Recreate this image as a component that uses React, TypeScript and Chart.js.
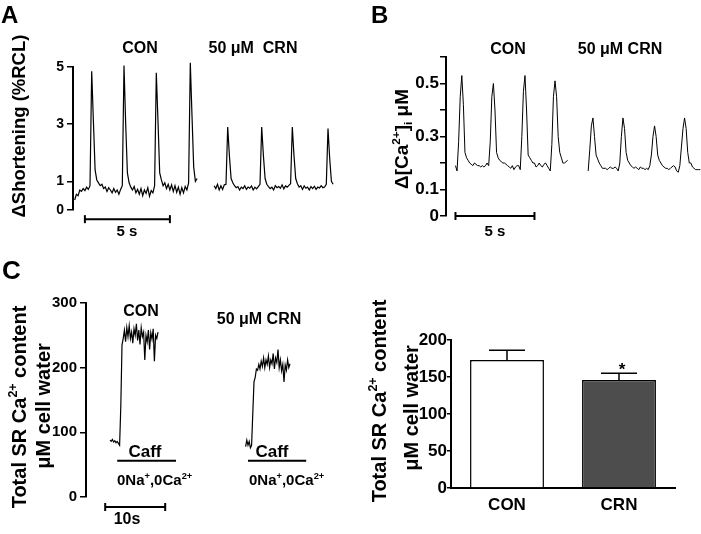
import React, { useEffect, useRef } from 'react';
import { Chart, registerables } from 'chart.js';
Chart.register(...registerables);

const PAGE_W = 701;
const PAGE_H = 534;
const FONT = '"Liberation Sans", Arial, sans-serif';

// ---------- Panel A: cell shortening (% RCL) ----------
const A_Y_TICKS = [0, 1, 3, 5];
const A_Y_LABELS = ['0', '1', '3', '5'];
const A_STEP = 0.1; // s per sample
const A_CON_T0 = 0.1;
const A_CON = [
  0.35, 0.55, 0.5, 0.7, 0.65, 0.75, 0.68, 0.8, 0.72, 0.85,
  4.85, 3.1, 1.4, 1.05,
  0.95, 0.85, 0.9, 0.75, 0.8, 0.65, 0.78, 0.7, 0.6, 0.75, 0.62, 0.7, 0.55, 0.72, 0.85,
  5.05, 3.0, 1.3, 0.95,
  0.8, 0.7, 0.82, 0.6, 0.72, 0.55, 0.75, 0.5, 0.7, 0.58, 0.78, 0.48, 0.68, 0.6, 0.85,
  4.8, 3.1, 1.3, 1.05,
  0.85, 0.95, 0.75, 0.9, 0.7, 0.88, 0.65, 0.85, 0.62, 0.8, 0.55, 0.78, 0.6, 0.82, 0.7, 0.95,
  5.15, 3.3, 1.5, 1.0,
  1.1,
];
const A_CRN_T0 = 8.3;
const A_CRN = [
  0.85, 0.75, 0.9, 0.7, 0.85, 0.72, 0.88, 0.9,
  2.9, 1.9, 1.1,
  0.95, 0.85, 0.78, 0.82, 0.7, 0.8, 0.75, 0.85, 0.72, 0.8, 0.76, 0.84, 0.7, 0.8, 0.74, 0.82, 0.9,
  2.9, 1.9, 1.1,
  0.9, 0.82, 0.75, 0.8, 0.7, 0.85, 0.78, 0.82, 0.76, 0.88, 0.74, 0.84, 0.8, 0.86, 0.92,
  2.9, 1.9, 1.1,
  0.92, 0.8, 0.85, 0.72, 0.84, 0.76, 0.8, 0.7, 0.82, 0.75, 0.83, 0.72, 0.8, 0.77, 0.85, 0.78, 0.8, 0.9,
  2.85, 1.8, 1.0, 0.9,
];
const A_SCALE_BAR_X = [0.7, 5.7]; // 5 s
const A_SCALE_BAR_Y = -0.32;

// ---------- Panel B: Ca2+ transients (uM) ----------
const B_Y_TICKS = [0, 0.1, 0.2, 0.3, 0.4, 0.5, 0.6];
const B_Y_LABELS = ['0', '0.1', '', '0.3', '', '0.5', ''];
const B_STEP = 0.1;
const B_CON_T0 = 0.6;
const B_CON = [
  0.19, 0.17, 0.28, 0.45, 0.53, 0.42, 0.24, 0.22, 0.21, 0.2,
  0.195, 0.19, 0.2, 0.195, 0.19, 0.19, 0.185, 0.19, 0.185, 0.19,
  0.2, 0.19, 0.28, 0.45, 0.5, 0.4, 0.24, 0.22, 0.21, 0.205,
  0.2, 0.2, 0.195, 0.19, 0.185, 0.18, 0.19, 0.175, 0.185, 0.19,
  0.19, 0.175, 0.3, 0.47, 0.53, 0.4, 0.23, 0.22, 0.21, 0.2,
  0.2, 0.185, 0.19, 0.2, 0.19, 0.185, 0.195, 0.2, 0.19, 0.18,
  0.17, 0.27, 0.45, 0.51, 0.45, 0.3, 0.24, 0.22, 0.2, 0.2,
  0.205, 0.21,
];
const B_CRN_T0 = 9.0;
const B_CRN = [
  0.17, 0.25, 0.34, 0.37, 0.3, 0.23, 0.215, 0.2, 0.19, 0.18,
  0.18, 0.18, 0.175, 0.18, 0.185, 0.18, 0.18, 0.185, 0.18, 0.17,
  0.2, 0.3, 0.37, 0.33, 0.24, 0.21, 0.2, 0.19, 0.185, 0.18,
  0.185, 0.18, 0.175, 0.185, 0.18, 0.18, 0.175, 0.18, 0.175, 0.19,
  0.23, 0.3, 0.34, 0.3, 0.23, 0.21, 0.2, 0.19, 0.185, 0.18,
  0.18, 0.175, 0.18, 0.185, 0.19, 0.185, 0.17, 0.165, 0.19, 0.26,
  0.33, 0.37, 0.33, 0.24, 0.2, 0.2, 0.185, 0.18, 0.175, 0.175,
  0.175, 0.175,
];
const B_SCALE_BAR_X = [0.6, 5.6]; // 5 s
const B_SCALE_BAR_Y = 0;

// ---------- Panel C (left): caffeine-induced SR release ----------
const C_Y_TICKS = [0, 100, 200, 300];
const C_Y_LABELS = ['0', '100', '200', '300'];
const C_STEP = 0.2;
const C_CON_T0 = 4.0;
const C_CON = [
  88, 86, 89, 85, 87, 84, 86, 83, 80, 140,
  235, 245, 258, 240, 262, 248, 265, 245, 255, 238,
  260, 250, 268, 242, 258, 236, 262, 248, 255, 212,
  250, 240, 258, 228, 254, 244, 260, 210, 250, 245,
  255,
];
const C_CRN_T0 = 26.6;
const C_CRN = [
  78, 88, 80, 86, 76, 80, 130, 178, 185, 198,
  196, 205, 198, 210, 202, 215, 200, 212, 205, 218,
  200, 212, 206, 222, 198, 215, 208, 228, 200, 212,
  195, 205, 178, 204, 196, 212, 200, 206,
];
const C_CAFF_CON_X = [5.2, 15.0];
const C_CAFF_CRN_X = [27.0, 36.7];
const C_CAFF_Y = 56;
const C_SCALE_BAR_X = [3.2, 13.2]; // 10 s
const C_SCALE_BAR_Y = -15.5;

// ---------- Panel C (right): total SR Ca2+ content ----------
const BAR_CATS = ['CON', 'CRN'];
const BAR_MEANS = [173, 146];
const BAR_SEM = [13, 9];
const BAR_COLORS = ['#ffffff', '#4d4d4d'];
const BAR_Y_TICKS = [0, 50, 100, 150, 200];

type Part = [string, number];
type TextItem = { parts: Part[]; x: number; y: number; size: number; align?: 'left' | 'center'; rot?: boolean };

function drawRich(ctx: CanvasRenderingContext2D, it: TextItem) {
  ctx.save();
  ctx.translate(it.x, it.y);
  if (it.rot) ctx.rotate(-Math.PI / 2);
  ctx.textBaseline = 'middle';
  ctx.textAlign = 'left';
  ctx.fillStyle = '#000';
  let total = 0;
  const segs = it.parts.map(([t, m]) => {
    const s = m ? it.size * 0.62 : it.size;
    ctx.font = `bold ${s}px ${FONT}`;
    const w = ctx.measureText(t).width;
    total += w;
    return { t, m, s, w };
  });
  let cx = it.align === 'left' ? 0 : -total / 2;
  for (const sg of segs) {
    ctx.font = `bold ${sg.s}px ${FONT}`;
    const dy = sg.m === 1 ? -it.size * 0.33 : sg.m === -1 ? it.size * 0.3 : 0;
    ctx.fillText(sg.t, cx, dy);
    cx += sg.w;
  }
  ctx.restore();
}

function textPlugin(items: TextItem[]) {
  return {
    id: 'overlayText',
    afterDraw(chart: any) {
      const ctx = chart.ctx;
      items.forEach((it) => drawRich(ctx, it));
    },
  };
}

// vertical end caps for datasets marked as scale bars
const capPlugin = {
  id: 'scaleBarCaps',
  afterDatasetsDraw(chart: any) {
    const ctx = chart.ctx;
    ctx.save();
    ctx.strokeStyle = '#000';
    ctx.lineWidth = 2;
    chart.data.datasets.forEach((ds: any, di: number) => {
      if (!ds.caps) return;
      chart.getDatasetMeta(di).data.forEach((el: any) => {
        ctx.beginPath();
        ctx.moveTo(el.x, el.y - 4);
        ctx.lineTo(el.x, el.y + 4);
        ctx.stroke();
      });
    });
    ctx.restore();
  },
};

const series = (t0: number, step: number, vals: number[]) => vals.map((v, i) => ({ x: +(t0 + i * step).toFixed(3), y: v }));

function traceDs(points: any[], width: number) {
  return { data: points, borderColor: '#000', borderWidth: width, pointRadius: 0, tension: 0, clip: false as any };
}
function barDs(xs: number[], y: number, caps: boolean) {
  return {
    data: [{ x: xs[0], y }, { x: xs[1], y }],
    borderColor: '#000',
    borderWidth: 2,
    pointRadius: 0,
    caps,
    clip: false as any,
  };
}

function yScale(min: number, max: number, ticks: number[], labels: string[], size: number, tickLen: number, pad: number) {
  return {
    type: 'linear',
    min,
    max,
    afterFit: (s: any) => { s.width = 60; },
    afterBuildTicks: (s: any) => { s.ticks = ticks.map((v) => ({ value: v })); },
    ticks: {
      autoSkip: false,
      color: '#000',
      padding: pad,
      font: { family: FONT, size, weight: 'bold' },
      callback: (_v: any, i: number) => labels[i],
    },
    grid: { display: true, drawOnChartArea: false, drawTicks: true, tickLength: tickLen, color: '#000', lineWidth: 1.5 },
    border: { display: true, color: '#000', width: 2 },
  };
}

function traceChart(canvas: HTMLCanvasElement, o: any) {
  return new Chart(canvas, {
    type: 'line',
    data: { datasets: o.datasets },
    options: {
      responsive: false,
      animation: false,
      devicePixelRatio: 1,
      layout: { padding: { left: o.axisX - 60, top: o.top, right: PAGE_W - o.right, bottom: PAGE_H - o.bottom } },
      plugins: { legend: { display: false }, tooltip: { enabled: false } },
      scales: {
        x: { type: 'linear', min: 0, max: o.xmax, display: false },
        y: o.y,
      },
    } as any,
    plugins: [capPlugin, textPlugin(o.texts)],
  });
}

export default function App() {
  const refA = useRef<HTMLCanvasElement>(null);
  const refB = useRef<HTMLCanvasElement>(null);
  const refC = useRef<HTMLCanvasElement>(null);
  const refD = useRef<HTMLCanvasElement>(null);

  useEffect(() => {
    document.body.style.margin = '0';
    document.body.style.background = '#fff';
    const charts: Chart[] = [];

    charts.push(traceChart(refA.current!, {
      axisX: 73, top: 67, bottom: 210, right: 345, xmax: 16,
      y: yScale(0, 5, A_Y_TICKS, A_Y_LABELS, 14, 6, 3),
      datasets: [
        traceDs(series(A_CON_T0, A_STEP, A_CON), 1.2),
        traceDs(series(A_CRN_T0, A_STEP, A_CRN), 1.2),
        barDs(A_SCALE_BAR_X, A_SCALE_BAR_Y, true),
      ],
      texts: [
        { parts: [['A', 0]], x: 1, y: 16, size: 24, align: 'left' },
        { parts: [['CON', 0]], x: 140, y: 49, size: 16 },
        { parts: [['50 μM  CRN', 0]], x: 253, y: 49, size: 16 },
        { parts: [['5 s', 0]], x: 127, y: 232, size: 15 },
        { parts: [['ΔShortening (%RCL)', 0]], x: 20, y: 126, size: 18.5, rot: true },
      ],
    }));

    charts.push(traceChart(refB.current!, {
      axisX: 446, top: 57, bottom: 216, right: 701, xmax: 16.14,
      y: yScale(0, 0.6, B_Y_TICKS, B_Y_LABELS, 17, 6, 1),
      datasets: [
        traceDs(series(B_CON_T0, B_STEP, B_CON), 1),
        traceDs(series(B_CRN_T0, B_STEP, B_CRN), 1),
        barDs(B_SCALE_BAR_X, B_SCALE_BAR_Y, true),
      ],
      texts: [
        { parts: [['B', 0]], x: 371, y: 16, size: 24, align: 'left' },
        { parts: [['CON', 0]], x: 508, y: 50, size: 16 },
        { parts: [['50 μM CRN', 0]], x: 620, y: 50, size: 16 },
        { parts: [['5 s', 0]], x: 495, y: 232, size: 15 },
        { parts: [['Δ[Ca', 0], ['2+', 1], [']', 0], ['i', -1], [' μM', 0]], x: 403, y: 139, size: 19, rot: true },
      ],
    }));

    charts.push(traceChart(refC.current!, {
      axisX: 86, top: 303, bottom: 497, right: 338, xmax: 42,
      y: yScale(0, 300, C_Y_TICKS, C_Y_LABELS, 15, 6, 3),
      datasets: [
        traceDs(series(C_CON_T0, C_STEP, C_CON), 1.2),
        traceDs(series(C_CRN_T0, C_STEP, C_CRN), 1.2),
        barDs(C_CAFF_CON_X, C_CAFF_Y, false),
        barDs(C_CAFF_CRN_X, C_CAFF_Y, false),
        barDs(C_SCALE_BAR_X, C_SCALE_BAR_Y, true),
      ],
      texts: [
        { parts: [['C', 0]], x: 2, y: 272, size: 26, align: 'left' },
        { parts: [['CON', 0]], x: 141, y: 312, size: 16 },
        { parts: [['50 μM CRN', 0]], x: 259, y: 320, size: 16 },
        { parts: [['Caff', 0]], x: 145, y: 452, size: 17 },
        { parts: [['Caff', 0]], x: 272, y: 452, size: 17 },
        { parts: [['0Na', 0], ['+', 1], [',0Ca', 0], ['2+', 1]], x: 117, y: 481, size: 15, align: 'left' },
        { parts: [['0Na', 0], ['+', 1], [',0Ca', 0], ['2+', 1]], x: 249, y: 481, size: 15, align: 'left' },
        { parts: [['10s', 0]], x: 127, y: 520, size: 16 },
        { parts: [['Total SR Ca', 0], ['2+', 1], [' content', 0]], x: 20, y: 407, size: 20, rot: true },
        { parts: [['μM cell water', 0]], x: 44, y: 406, size: 20, rot: true },
      ],
    }));

    const errPlugin = {
      id: 'errBars',
      afterDatasetsDraw(chart: any) {
        const ctx = chart.ctx;
        const meta = chart.getDatasetMeta(0);
        const ys = chart.scales.y;
        ctx.save();
        ctx.strokeStyle = '#000';
        ctx.lineWidth = 1.5;
        meta.data.forEach((el: any, i: number) => {
          const top = ys.getPixelForValue(BAR_MEANS[i] + BAR_SEM[i]);
          ctx.beginPath();
          ctx.moveTo(el.x, el.y);
          ctx.lineTo(el.x, top);
          ctx.moveTo(el.x - 18, top);
          ctx.lineTo(el.x + 18, top);
          ctx.stroke();
        });
        ctx.restore();
      },
    };

    charts.push(new Chart(refD.current!, {
      type: 'bar',
      data: {
        labels: BAR_CATS,
        datasets: [{ data: BAR_MEANS, backgroundColor: BAR_COLORS, borderColor: '#000', borderWidth: 1.5, categoryPercentage: 0.8, barPercentage: 0.825 }],
      },
      options: {
        responsive: false,
        animation: false,
        devicePixelRatio: 1,
        layout: { padding: { left: 451 - 60, top: 340, right: PAGE_W - 675, bottom: 0 } },
        plugins: { legend: { display: false }, tooltip: { enabled: false } },
        scales: {
          x: {
            afterFit: (s: any) => { s.height = 46; },
            grid: { display: false, drawTicks: false },
            border: { display: true, color: '#000', width: 2 },
            ticks: { color: '#000', padding: 7, font: { family: FONT, size: 17, weight: 'bold' } },
          },
          y: yScale(0, 200, BAR_Y_TICKS, BAR_Y_TICKS.map(String), 17, 4, 0),
        },
      } as any,
      plugins: [errPlugin, textPlugin([
        { parts: [['*', 0]], x: 622, y: 370, size: 17 },
        { parts: [['Total SR Ca', 0], ['2+', 1], [' content', 0]], x: 380, y: 401, size: 20, rot: true },
        { parts: [['μM cell water', 0]], x: 412, y: 408, size: 20, rot: true },
      ])],
    }));

    return () => charts.forEach((c) => c.destroy());
  }, []);

  const cs: React.CSSProperties = { position: 'absolute', left: 0, top: 0 };
  return (
    <div style={{ position: 'relative', width: PAGE_W, height: PAGE_H, background: '#fff' }}>
      <canvas ref={refA} width={PAGE_W} height={PAGE_H} style={cs} />
      <canvas ref={refB} width={PAGE_W} height={PAGE_H} style={cs} />
      <canvas ref={refC} width={PAGE_W} height={PAGE_H} style={cs} />
      <canvas ref={refD} width={PAGE_W} height={PAGE_H} style={cs} />
    </div>
  );
}
